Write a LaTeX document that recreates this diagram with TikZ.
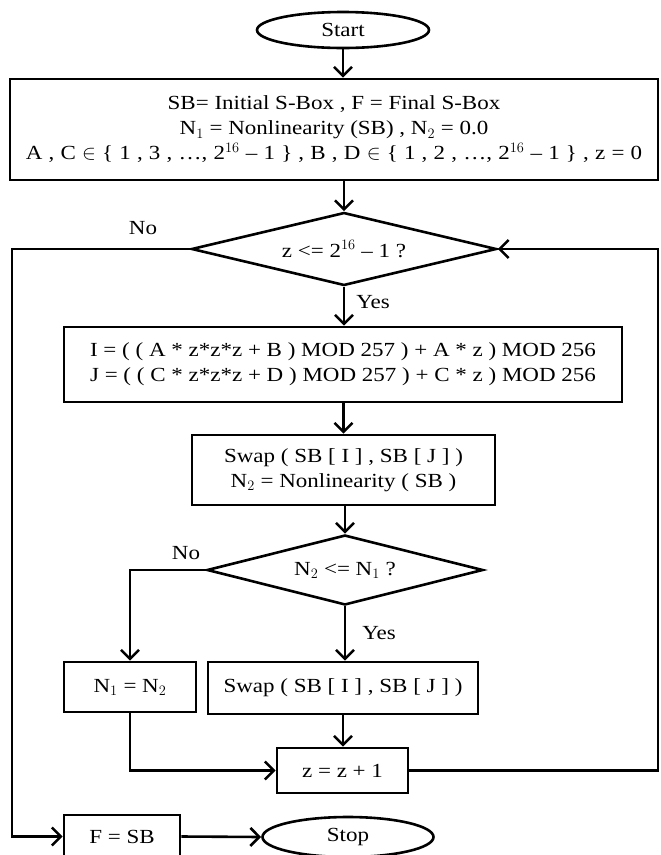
\documentclass[tikz,border=0pt]{standalone}
\usepackage{fontspec}
\setmainfont[FakeStretch=1.15]{Liberation Serif}
\usetikzlibrary{shapes.geometric,arrows.meta}
\tikzset{
  proc/.style={draw, rectangle, align=center, inner sep=2pt},
  term/.style={draw, ellipse, inner sep=0pt},
  dec/.style={draw, diamond, inner sep=0pt},
  lbl/.style={inner sep=1pt}
}
\begin{document}
\begin{tikzpicture}[x=1pt, y=-1pt, line width=2.6pt, >={Straight Barb[length=9pt,width=18pt]},
  font=\fontsize{20}{25}\selectfont]
	\useasboundingbox (0,0) rectangle (661,855);
	
	% Nodes
	\node[term, minimum width=172, minimum height=36] (start) at (343,30) {Start};
	\node[proc, minimum width=648, minimum height=101] (init) at (334,129.5)
		{SB= Initial S-Box , F = Final S-Box\\
		 N$_1$ = Nonlinearity (SB) , N$_2$ = 0.0\\
		 {\spaceskip=6.2pt A , C $\in$ \{ 1 , 3 , \ldots , 2$^{16}$ -- 1 \} , B , D $\in$ \{ 1 , 2 , \ldots , 2$^{16}$ -- 1 \} , z = 0}};
	\node[dec, aspect=4.2, minimum width=305, minimum height=73] (dec1) at (344,249) {z <= 2$^{16}$ -- 1 ?};
	\node[proc, minimum width=558, minimum height=75] (calc) at (343,364.5)
		{I = ( ( A * z*z*z + B ) MOD 257 ) + A * z ) MOD 256\\
		 J = ( ( C * z*z*z + D ) MOD 257 ) + C * z ) MOD 256};
	\node[proc, minimum width=303, minimum height=70] (swap1) at (343.5,470)
		{Swap ( SB [ I ] , SB [ J ] )\\ N$_2$ = Nonlinearity ( SB )};
	\node[dec, aspect=3.9, minimum width=276, minimum height=70] (dec2) at (345,570) {N$_2$ <= N$_1$ ?};
	\node[proc, minimum width=132, minimum height=50] (upd) at (130,687) {N$_1$ = N$_2$};
	\node[proc, minimum width=270, minimum height=52] (swap2) at (343,688) {Swap ( SB [ I ] , SB [ J ] )};
	\node[proc, minimum width=131, minimum height=45] (inc) at (342.5,770.5) {z = z + 1};
	\node[proc, minimum width=116, minimum height=43] (fin) at (122,836.5) {F = SB};
	\node[term, minimum width=171, minimum height=40] (stop) at (348,837) {Stop};
	
	% Labels
	\node[lbl] (no1) at (143,228) {No};
	\node[lbl] (yes1) at (373,302) {Yes};
	\node[lbl] (no2) at (186,553) {No};
	\node[lbl] (yes2) at (379,633) {Yes};
	
	% Corners
	\coordinate (lft) at (12,249);
	\coordinate (rgt) at (658,770.5);
	
	% Connectors
	\draw[->] (start.south) -- (start.south |- init.north);
	\draw[->] (init.south -| dec1.north) -- (dec1.north);
	\draw[->] (dec1.south) -- (dec1.south |- calc.north);
	\draw[->] (calc.south -| swap1.north) -- (swap1.north);
	\draw[->] (swap1.south) -- (swap1.south -| dec2.north) -- (dec2.north);
	\draw[->] (dec2.south) -- (dec2.south |- swap2.north);
	\draw[->] (dec2.west) -| (upd.north);
	\draw[->] (swap2.south) -- (swap2.south |- inc.north);
	\draw[->] (upd.south) |- (inc.west);
	\draw[->] (inc.east) -- (rgt) |- (dec1.east);
	\draw[->] (dec1.west) -- (lft) |- (fin.west);
	\draw[->] (fin.east) -- (stop.west);
\end{tikzpicture}
\end{document}
